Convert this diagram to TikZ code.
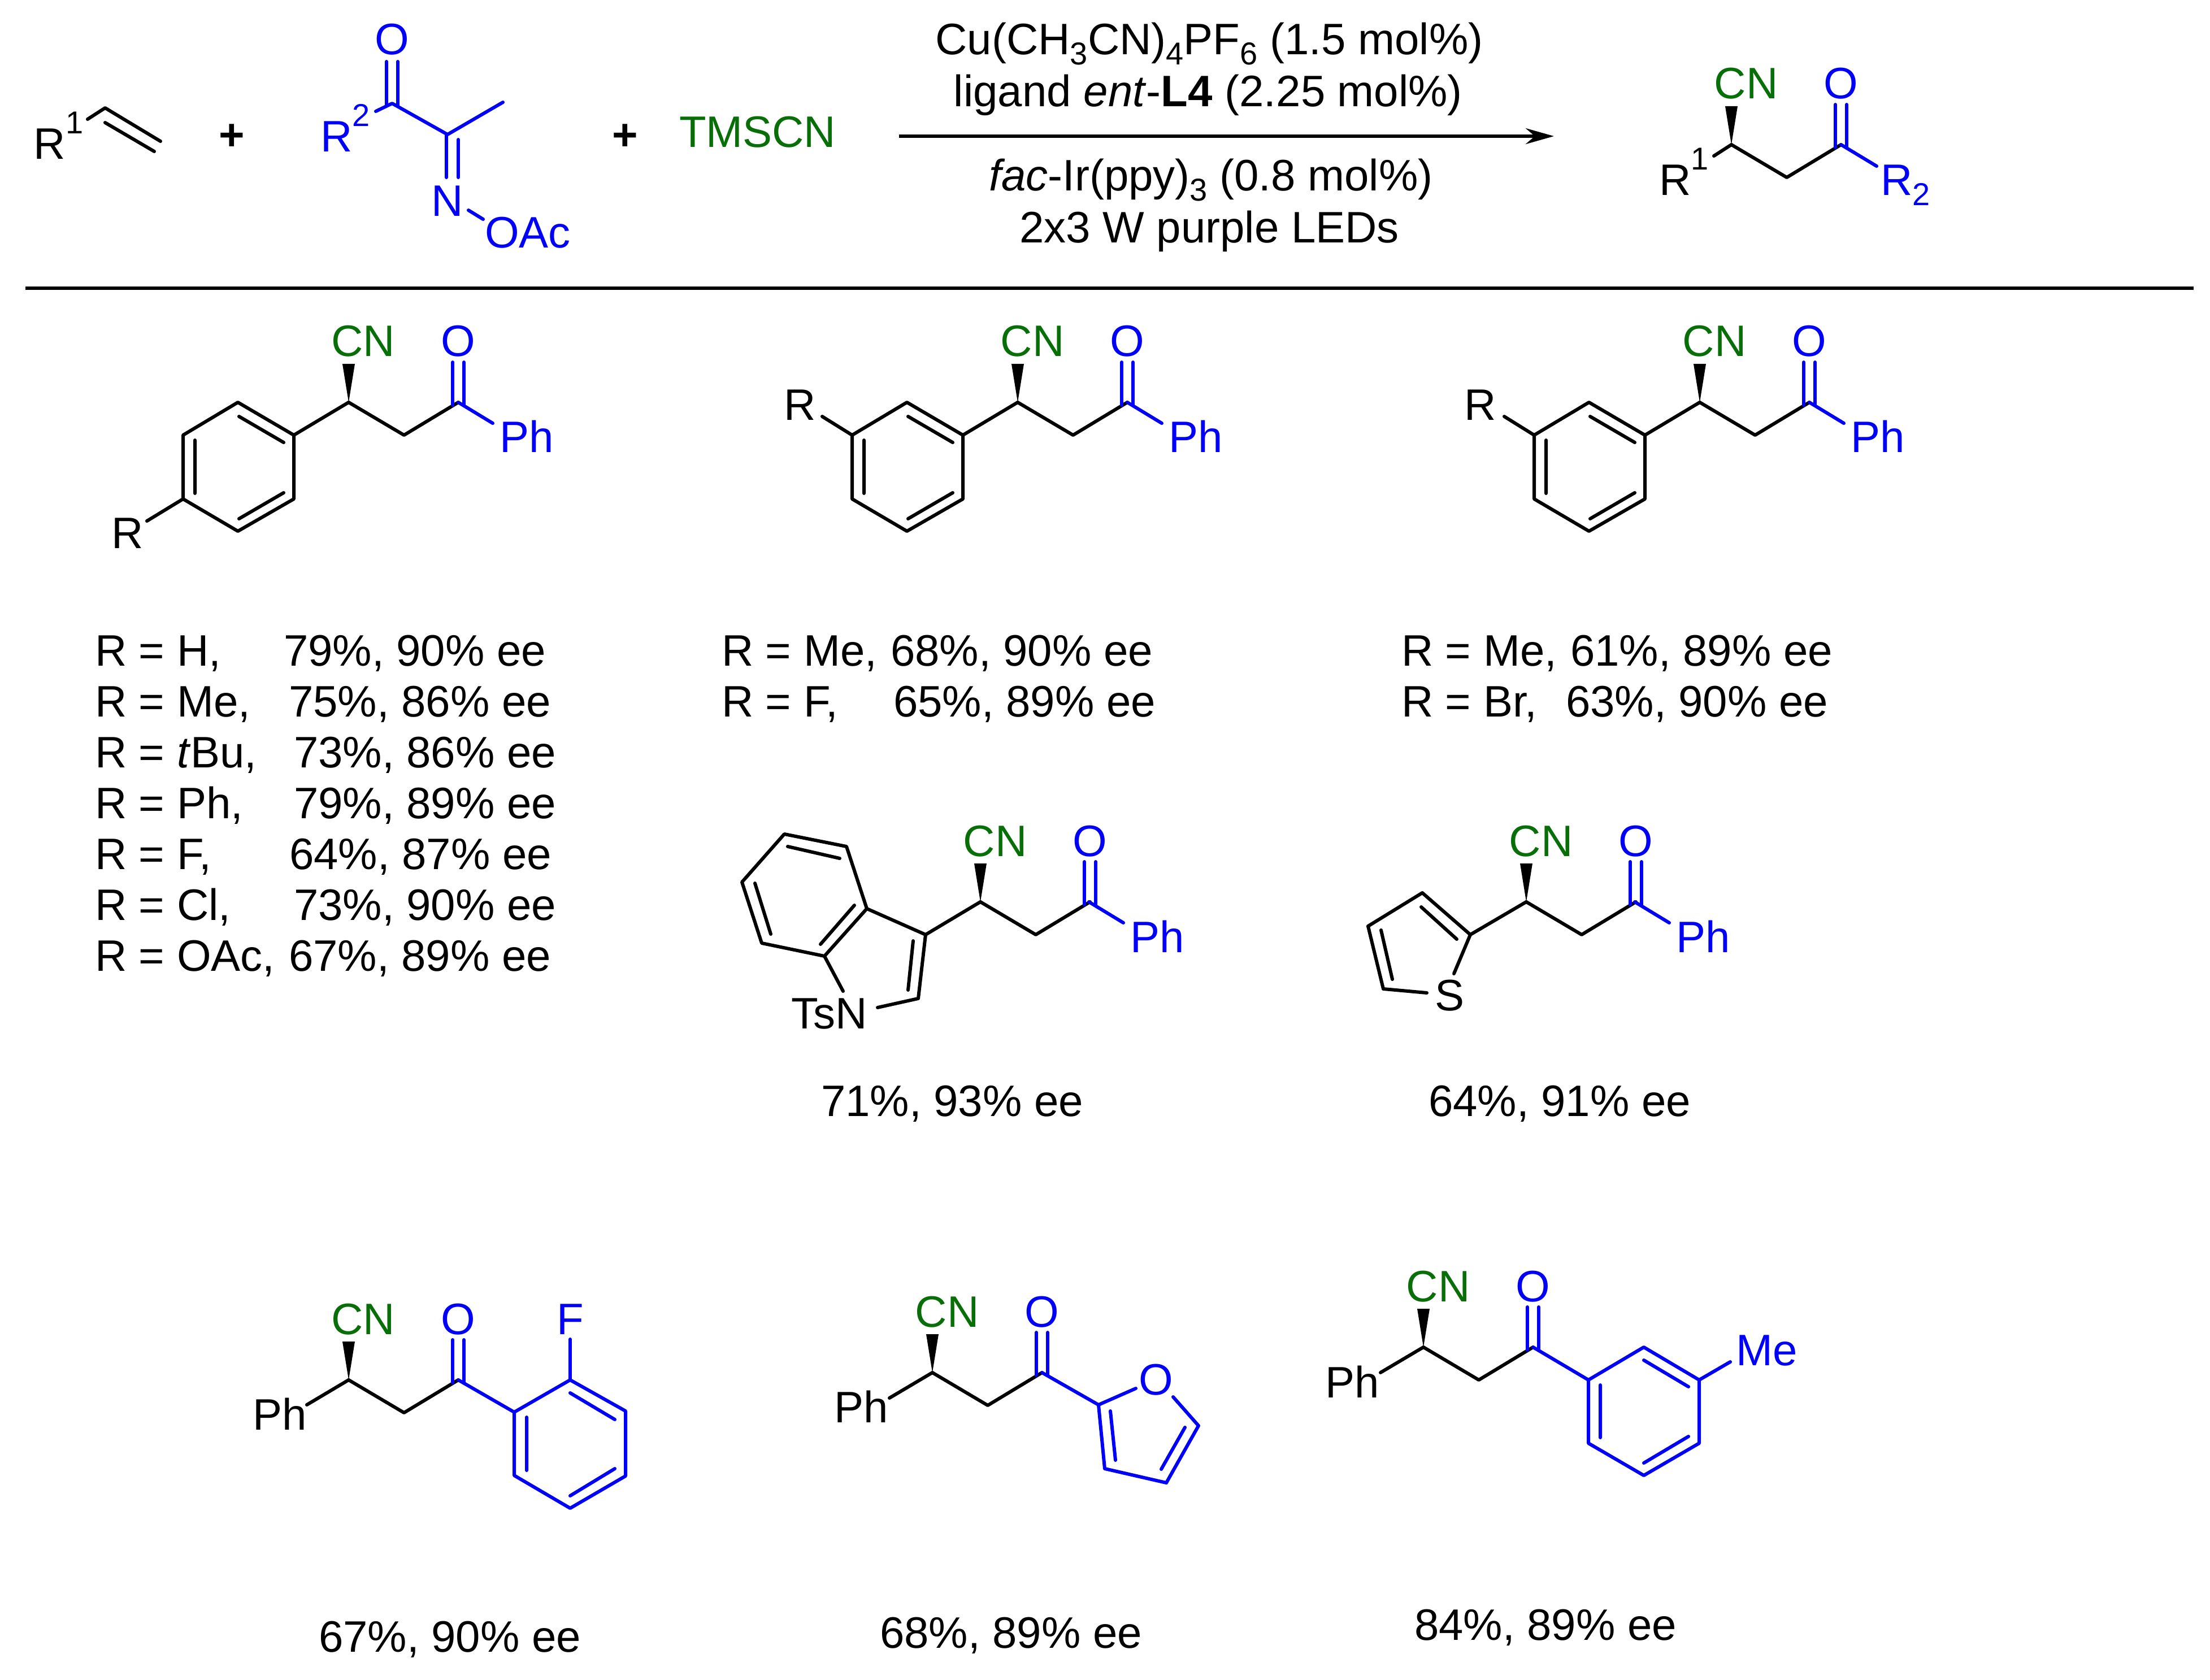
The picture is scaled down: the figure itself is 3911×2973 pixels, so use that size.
\documentclass[tikz,border=0pt]{standalone}
\usepackage{fontspec}
\setmainfont{Liberation Sans}
\usetikzlibrary{arrows.meta}
\definecolor{cblue}{RGB}{0,0,250}
\definecolor{cgreen}{RGB}{8,110,8}
\newcommand{\subs}[1]{\raisebox{-0.22em}{\fontsize{14}{14}\selectfont #1}}
\newcommand{\sups}[1]{\raisebox{0.58em}{\fontsize{14}{14}\selectfont #1}}
\tikzset{
  bond/.style={line width=1.5pt,line cap=round,line join=round,draw=black},
  bbond/.style={bond,draw=cblue},
  txt/.style={font=\fontsize{19.5}{22}\selectfont,inner sep=0pt,outer sep=0pt,anchor=base},
  ltxt/.style={txt,anchor=base west},
  btxt/.style={txt,text=cblue},
  gtxt/.style={txt,text=cgreen}
}
% chiral centre, CH2, C=O, with CN and O labels
\newcommand{\tail}[3]{%
\begin{scope}[shift={(#1,#2)}]
  \coordinate (#3c) at (0,0);
  \coordinate (#3m) at (98,58);
  \coordinate (#3k) at (194,0);
  \fill[black] (-11,-68) -- (11,-68) -- (#3c) -- cycle;
  \draw[bond] (#3c) -- (#3m) -- (#3k);
  \draw[bbond] (184,-71) -- (184,5) (204,-71) -- (204,5);
  \node[gtxt] (#3cn) at (26,-81) {CN};
  \node[btxt] (#3o) at (194,-81) {O};
\end{scope}}
% C(O)-Ph end
\newcommand{\phend}[3]{%
\begin{scope}[shift={(#1,#2)}]
  \node[btxt,anchor=base west] (#3ph) at (267,89) {Ph};
  \draw[bbond] (194,0) -- (255,37);
\end{scope}}
% phenyl ring, placed relative to the chiral centre
\newcommand{\ringA}[2]{%
\begin{scope}[shift={(#1,#2)}]
  \draw[bond] (0,0) -- (-97,58) -- (-196,0) -- (-293,58) -- (-293,171) -- (-196,228) -- (-97,171) -- (-97,58);
  \draw[bond] (-194,25) -- (-115,71) (-272,67) -- (-272,161) (-194,206) -- (-115,160);
\end{scope}}
\begin{document}
\begin{tikzpicture}[x=0.25pt,y=-0.25pt]
\useasboundingbox (0,0) rectangle (3911,2973);
% ---------- reaction ----------
\node[ltxt] (r1) at (60,282) {R\sups{1}};
\draw[bond] (155,211) -- (186,191) -- (284,250);
\draw[bond] (186,217) -- (273,268);
\node[txt,font=\fontsize{19.5}{22}\selectfont\bfseries] (plusa) at (410,266) {+};
\draw[bbond] (665,197) -- (694,183) -- (792,238) -- (890,181);
\draw[bbond] (684,109) -- (684,186) (704,109) -- (704,186);
\draw[bbond] (790,238) -- (790,314) (811,247) -- (811,314);
\draw[bbond] (829,372) -- (855,388);
\node[btxt] (o0) at (694,97) {O};
\node[btxt,anchor=base west] (r2) at (567,269) {R\sups{2}};
\node[btxt] (n0) at (792,383) {N};
\node[btxt,anchor=base west] (oac) at (858,439) {OAc};
\node[txt,font=\fontsize{19.5}{22}\selectfont\bfseries] (plusb) at (1106,266) {+};
\node[gtxt,anchor=base west] (tms) at (1202,261) {TMSCN};
\coordinate (arra) at (1591,241);
\coordinate (arrb) at (2750,241);
\draw[line width=1.5pt,-{Stealth[length=12.5pt,width=7pt]}] (arra) -- (arrb);
\node[txt] (c1) at (2140,97) {Cu(CH\subs{3}CN)\subs{4}PF\subs{6} (1.5 mol\%)};
\node[txt] (c2) at (2138,189) {ligand \textit{ent}-\textbf{L4} (2.25 mol\%)};
\node[txt] (c3) at (2143,338) {\textit{fac}-Ir(ppy)\subs{3} (0.8 mol\%)};
\node[txt] (c4) at (2140,430) {2x3 W purple LEDs};
% product
\tail{3064}{256}{p}
\draw[bond] (pc) -- (3033,276);
\draw[bbond] (pk) -- (3321,294);
\node[ltxt] (pr1) at (2936,346) {R\sups{1}};
\node[btxt,anchor=base west] (pr2) at (3328,346) {R\subs{2}};
% rule
\coordinate (rl) at (45,510);
\coordinate (rr) at (3882,510);
\draw[line width=1.6pt] (rl) -- (rr);
% ---------- structure 1 ----------
\tail{617}{712}{a}\phend{617}{712}{a}
\ringA{617}{712}
\draw[bond] (324,883) -- (260,922);
\node[txt] (aR) at (226,971) {R};
\node[ltxt] (l1a) at (168,1178) {R = H,};  \node[ltxt] (l1b) at (502,1178) {79\%, 90\% ee};
\node[ltxt] (l2a) at (168,1268) {R = Me,}; \node[ltxt] (l2b) at (511,1268) {75\%, 86\% ee};
\node[ltxt] (l3a) at (168,1358) {R = \textit{t}Bu,}; \node[ltxt] (l3b) at (520,1358) {73\%, 86\% ee};
\node[ltxt] (l4a) at (168,1448) {R = Ph,}; \node[ltxt] (l4b) at (520,1448) {79\%, 89\% ee};
\node[ltxt] (l5a) at (168,1538) {R = F,};  \node[ltxt] (l5b) at (512,1538) {64\%, 87\% ee};
\node[ltxt] (l6a) at (168,1628) {R = Cl,}; \node[ltxt] (l6b) at (520,1628) {73\%, 90\% ee};
\node[ltxt] (l7a) at (168,1718) {R = OAc,}; \node[ltxt] (l7b) at (511,1718) {67\%, 89\% ee};
% ---------- structure 2 ----------
\tail{1801}{712}{b}\phend{1801}{712}{b}
\ringA{1801}{712}
\draw[bond] (1508,770) -- (1455,737);
\node[txt] (bR) at (1416,744) {R};
\node[ltxt] (m1a) at (1277,1178) {R = Me,}; \node[ltxt] (m1b) at (1576,1178) {68\%, 90\% ee};
\node[ltxt] (m2a) at (1277,1268) {R = F,};  \node[ltxt] (m2b) at (1581,1268) {65\%, 89\% ee};
% ---------- structure 3 ----------
\tail{3008}{712}{d}\phend{3008}{712}{d}
\ringA{3008}{712}
\draw[bond] (2715,770) -- (2662,737);
\node[txt] (dR) at (2620,744) {R};
\node[ltxt] (n1a) at (2480,1178) {R = Me,}; \node[ltxt] (n1b) at (2779,1178) {61\%, 89\% ee};
\node[ltxt] (n2a) at (2480,1268) {R = Br,}; \node[ltxt] (n2b) at (2771,1268) {63\%, 90\% ee};
% ---------- indole ----------
\tail{1735}{1596}{e}\phend{1733}{1596}{e}
\draw[bond] (ec) -- (1638,1654) -- (1534,1608) -- (1498,1498) -- (1388,1476) -- (1313,1561) -- (1348,1669) -- (1459,1692) -- (1534,1608);
\draw[bond] (1459,1692) -- (1492,1754);
\draw[bond] (1638,1654) -- (1625,1767) -- (1553,1783);
\draw[bond] (1394,1498) -- (1486,1519) (1336,1563) -- (1364,1653) (1512,1602) -- (1452,1671) (1616,1665) -- (1607,1752);
\node[ltxt] (ets) at (1400,1820) {TsN};
\node[txt] (ey) at (1685,1975) {71\%, 93\% ee};
% ---------- thiophene ----------
\tail{2701}{1596}{f}\phend{2699}{1596}{f}
\draw[bond] (fc) -- (2602,1654) -- (2517,1580) -- (2421,1639) -- (2448,1750) -- (2525,1757);
\draw[bond] (2602,1654) -- (2573,1723);
\draw[bond] (2578,1662) -- (2515,1605) (2444,1646) -- (2464,1733);
\node[txt] (fs) at (2565,1788) {S};
\node[txt] (fy) at (2760,1975) {64\%, 91\% ee};
% ---------- 2-F ----------
\tail{617}{2442}{g}
\draw[bond] (gc) -- (543,2486);
\node[ltxt] (gph) at (447,2530) {Ph};
\draw[bbond] (gk) -- (910,2499) -- (1009,2442) -- (1107,2497) -- (1107,2612) -- (1009,2669) -- (910,2611) -- (910,2499);
\draw[bbond] (1009,2442) -- (1009,2370);
\draw[bbond] (1009,2465) -- (1088,2512) (932,2508) -- (932,2602) (1009,2647) -- (1088,2599);
\node[btxt] (gf) at (1009,2361) {F};
\node[txt] (gy) at (796,2923) {67\%, 90\% ee};
% ---------- furan ----------
\tail{1650}{2429}{h}
\draw[bond] (hc) -- (1574,2474);
\node[ltxt] (hph) at (1476,2517) {Ph};
\draw[bbond] (hk) -- (1944,2486) -- (2010,2457);
\draw[bbond] (1944,2486) -- (1955,2599) -- (2064,2624) -- (2121,2523) -- (2076,2472);
\draw[bbond] (1965,2497) -- (1974,2584) (2097,2526) -- (2055,2600);
\node[btxt] (ho) at (2046,2468) {O};
\node[txt] (hy) at (1789,2916) {68\%, 89\% ee};
% ---------- m-Me ----------
\tail{2519}{2384}{i}
\draw[bond] (ic) -- (2443,2429);
\node[ltxt] (iph) at (2345,2473) {Ph};
\draw[bbond] (ik) -- (2811,2442) -- (2909,2384) -- (3007,2442) -- (3007,2554) -- (2909,2611) -- (2811,2554) -- (2811,2442);
\draw[bbond] (3007,2442) -- (3062,2410);
\draw[bbond] (2909,2407) -- (2988,2454) (2832,2451) -- (2832,2544) (2909,2589) -- (2988,2542);
\node[btxt,anchor=base west] (ime) at (3072,2416) {Me};
\node[txt] (iy) at (2735,2902) {84\%, 89\% ee};
\end{tikzpicture}
\end{document}
